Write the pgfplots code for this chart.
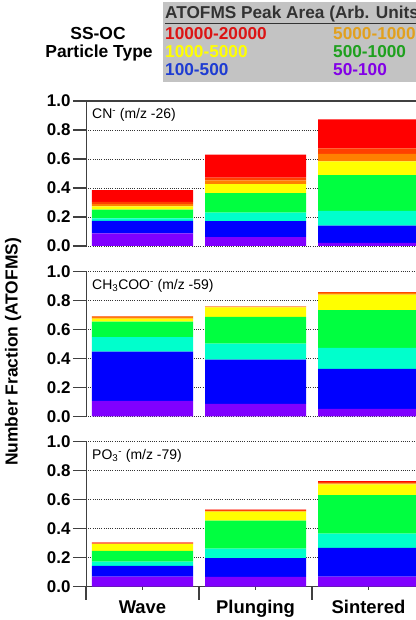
\documentclass[border=0pt]{standalone}
\usepackage{pgfplots}
\pgfplotsset{compat=1.18}
\usepackage{pgfplotstable}
\usepackage{fontspec}
\setmainfont{Liberation Sans}
\definecolor{cP}{RGB}{128,0,255}
\definecolor{cB}{RGB}{0,0,255}
\definecolor{cC}{RGB}{0,255,204}
\definecolor{cG}{RGB}{0,255,64}
\definecolor{cY}{RGB}{255,255,0}
\definecolor{cO}{RGB}{255,128,0}
\definecolor{cOR}{RGB}{255,64,0}
\definecolor{cR}{RGB}{255,0,0}
\definecolor{axgray}{RGB}{64,64,64}
\definecolor{boxgray}{RGB}{195,195,195}
\definecolor{lgRed}{RGB}{220,20,20}
\definecolor{lgOrange}{RGB}{225,160,30}
\definecolor{lgYellow}{RGB}{255,255,0}
\definecolor{lgGreen}{RGB}{30,160,30}
\definecolor{lgBlue}{RGB}{30,60,210}
\definecolor{lgPurple}{RGB}{130,0,230}

\pgfplotstableread{
x P B C G Y O OR R
0 0.087 0.086 0.017 0.060 0.024 0.014 0.017 0.080
1 0.062 0.110 0.058 0.135 0.062 0.025 0.020 0.158
2 0.022 0.118 0.102 0.246 0.096 0.051 0.038 0.201
}\tabA
\pgfplotstableread{
x P B C G Y O OR R
0 0.107 0.340 0.100 0.108 0.020 0.012 0.004 0.000
1 0.087 0.305 0.110 0.185 0.065 0.005 0.003 0.000
2 0.053 0.275 0.145 0.260 0.108 0.012 0.004 0.000
}\tabB
\pgfplotstableread{
x P B C G Y O OR R
0 0.068 0.075 0.029 0.073 0.047 0.004 0.006 0.003
1 0.067 0.129 0.065 0.194 0.062 0.005 0.006 0.003
2 0.068 0.198 0.099 0.265 0.074 0.008 0.010 0.005
}\tabC

\newcommand\bars[1]{%
  \addplot[fill=cP,draw=none] table[x=x,y=P]{#1};
  \addplot[fill=cB,draw=none] table[x=x,y=B]{#1};
  \addplot[fill=cC,draw=none] table[x=x,y=C]{#1};
  \addplot[fill=cG,draw=none] table[x=x,y=G]{#1};
  \addplot[fill=cY,draw=none] table[x=x,y=Y]{#1};
  \addplot[fill=cO,draw=none] table[x=x,y=O]{#1};
  \addplot[fill=cOR,draw=none] table[x=x,y=OR]{#1};
  \addplot[fill=cR,draw=none] table[x=x,y=R]{#1};
}

\pgfplotsset{
  panel/.style={
    scale only axis, width=330bp, height=145bp, anchor=south west,
    xmin=-0.5, xmax=2.42, ymin=0, ymax=1,
    ybar stacked, bar width=0.894,
    axis line style={draw=none},
    ytick={0,0.2,0.4,0.6,0.8,1}, ytick pos=left,
    tick align=outside, major tick length=13bp,
    tick style={line width=1.2bp, color=axgray},
    ymajorgrids,
    major grid style={line width=0.8bp, color=black!80, dash pattern=on 0.9bp off 1.3bp},
    yticklabel style={font=\bfseries\fontsize{17}{17}\selectfont, xshift=1bp,
      /pgf/number format/.cd, fixed, fixed zerofill, precision=1, assume math mode=true},
    xtick=\empty,
  },
}
\tikzset{plab/.style={anchor=base west, font=\fontsize{14}{14}\selectfont, inner sep=0pt}}

\begin{document}
\begin{tikzpicture}
\useasboundingbox (0,0) rectangle (416bp,620bp);

% header / legend box
\fill[boxgray] (163bp,538bp) rectangle (430bp,618bp);
\node[anchor=base west, inner sep=0pt, text=black!80, font=\bfseries\fontsize{17.3}{17.3}\selectfont] at (165bp,601.7bp) {\underline{ATOFMS Peak Area (Arb. Units)}};
\begin{scope}[every node/.style={anchor=base west, inner sep=0pt, font=\bfseries\fontsize{17.3}{17.3}\selectfont}]
\node[text=lgRed] at (165bp,580.7bp) {10000-20000};
\node[text=lgOrange] at (333bp,580.7bp) {5000-10000};
\node[text=lgYellow] at (165bp,562.7bp) {1000-5000};
\node[text=lgGreen] at (333bp,562.7bp) {500-1000};
\node[text=lgBlue] at (165bp,544bp) {100-500};
\node[text=lgPurple] at (333bp,544bp) {50-100};
\end{scope}
\node[anchor=base, inner sep=0pt, font=\bfseries\fontsize{17.5}{17.5}\selectfont] at (98bp,580.7bp) {SS-OC};
\node[anchor=base, inner sep=0pt, font=\bfseries\fontsize{17.5}{17.5}\selectfont] at (99bp,562.7bp) {Particle Type};

% y label
\node[rotate=90, font=\bfseries\fontsize{17.5}{17.5}\selectfont] at (13bp,268bp) {Number Fraction (ATOFMS)};

% panel 1
\begin{axis}[panel, at={(86bp,374bp)}]
\bars{\tabA}
\draw[line width=1.2bp, axgray] (rel axis cs:0,0) -- (rel axis cs:0,1) -- (rel axis cs:1,1);
\node[plab] at (rel axis cs:0,1) [xshift=6bp, yshift=-17.8bp] {CN\textsuperscript{-} (m/z -26)};
\end{axis}

% panel 2
\begin{axis}[panel, at={(86bp,203.5bp)}]
\bars{\tabB}
\draw[line width=1.2bp, axgray] (rel axis cs:0,0) -- (rel axis cs:0,1);
\node[plab] at (rel axis cs:0,1) [xshift=6bp, yshift=-17.8bp] {CH\textsubscript{3}COO\textsuperscript{-} (m/z -59)};
\end{axis}

% panel 3
\begin{axis}[panel, at={(86bp,33.5bp)},
  xtick={-0.5,0.5,1.5,2.5}, xticklabels={}, xtick pos=bottom,
  extra x ticks={0,1,2}, extra x tick labels={Wave,Plunging,Sintered},
  extra x tick style={major tick length=3bp},
  xticklabel style={font=\bfseries\fontsize{18.5}{18.5}\selectfont, yshift=-7.5bp},
]
\bars{\tabC}
\draw[line width=1.2bp, axgray] (rel axis cs:0,1) -- (rel axis cs:0,0) -- (rel axis cs:1,0);
\node[plab] at (rel axis cs:0,1) [xshift=6bp, yshift=-17.8bp] {PO\textsubscript{3}\textsuperscript{-} (m/z -79)};
\end{axis}
\end{tikzpicture}
\end{document}
